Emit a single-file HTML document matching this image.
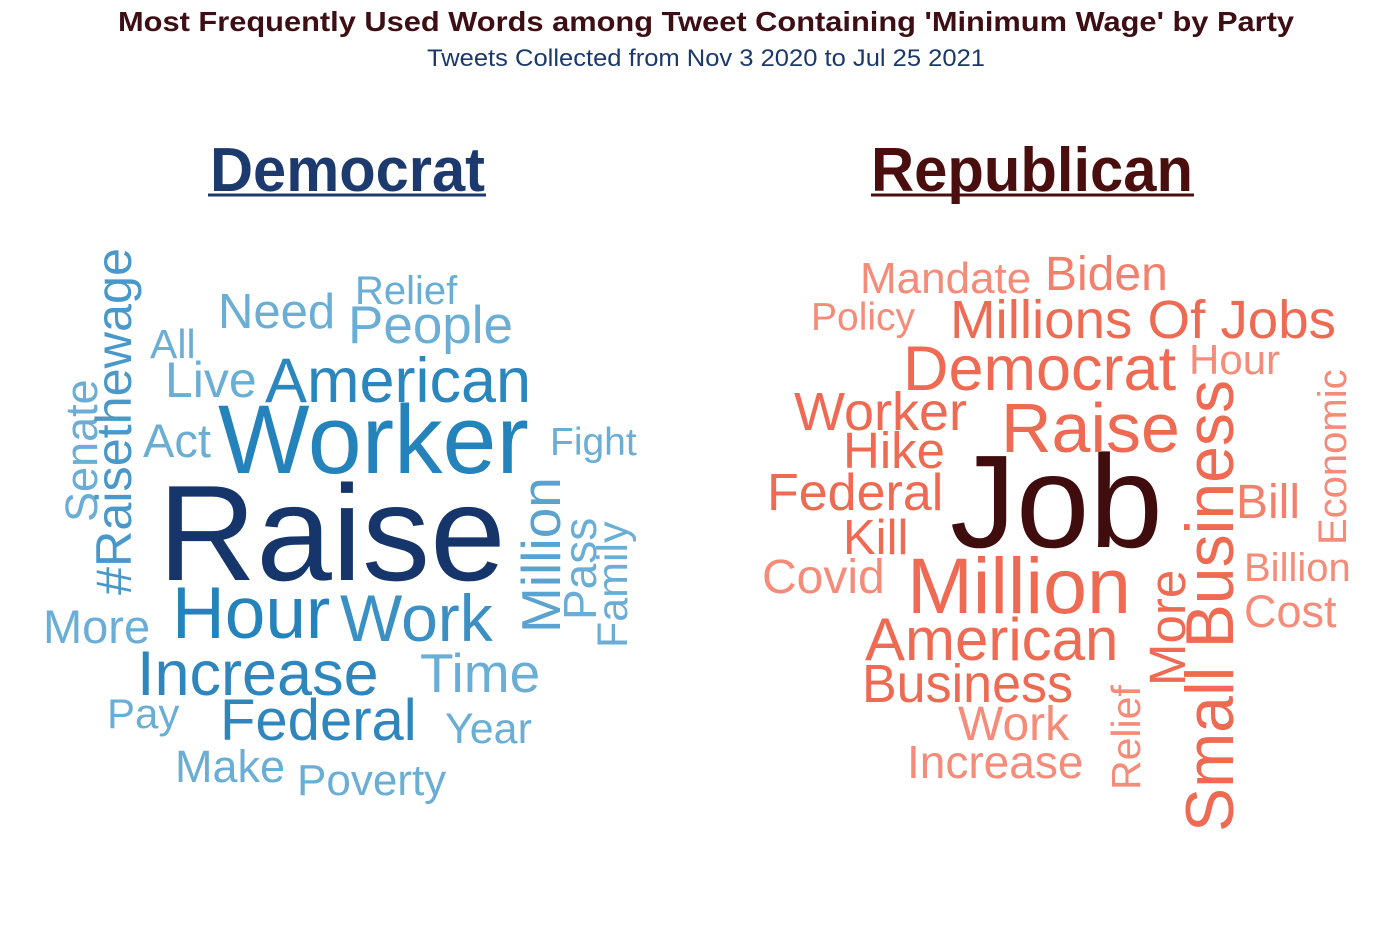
<!DOCTYPE html>
<html><head><meta charset="utf-8"><style>
html,body{margin:0;padding:0;background:#fff;}
svg{display:block;font-family:"Liberation Sans",Arial,sans-serif;}
</style></head><body>
<svg width="1400" height="932" viewBox="0 0 1400 932">
<text x="118" y="31" font-size="28" font-weight="bold" fill="#3d0e14" textLength="1176" lengthAdjust="spacingAndGlyphs">Most Frequently Used Words among Tweet Containing 'Minimum Wage' by Party</text>
<text x="427" y="66" font-size="24" fill="#1b3a6b" textLength="558" lengthAdjust="spacingAndGlyphs">Tweets Collected from Nov 3 2020 to Jul 25 2021</text>

<g>
<text x="210" y="191" font-size="62" font-weight="bold" fill="#1d3a6e" textLength="275" lengthAdjust="spacingAndGlyphs">Democrat</text>
<line x1="208" y1="195" x2="486" y2="195" stroke="#1d3a6e" stroke-width="3"/>
<g>
<text x="158" y="580" font-size="136" fill="#16366b">Raise</text>
<text x="218" y="473" font-size="97" fill="#2483bb">Worker</text>
<text x="265" y="402" font-size="63" fill="#2a86bd">American</text>
<text x="172" y="638" font-size="73" fill="#2483bb">Hour</text>
<text x="340" y="641" font-size="66" fill="#3a8fc3">Work</text>
<text x="137" y="695" font-size="63" fill="#2f86bd">Increase</text>
<text x="220" y="740" font-size="58" fill="#2f86bd">Federal</text>
<text x="420" y="692" font-size="55" fill="#6aaed6">Time</text>
<text x="445" y="743" font-size="43" fill="#6aaed6">Year</text>
<text x="107" y="728" font-size="42" fill="#6aaed6">Pay</text>
<text x="175" y="782" font-size="45" fill="#6aaed6">Make</text>
<text x="297" y="795" font-size="44" fill="#6aaed6">Poverty</text>
<text x="43" y="643" font-size="47" fill="#6aaed6">More</text>
<text x="218" y="328" font-size="49" fill="#6aaed6">Need</text>
<text x="355" y="304" font-size="40" fill="#6aaed6">Relief</text>
<text x="348" y="343" font-size="53" fill="#6aaed6">People</text>
<text x="150" y="358" font-size="41" fill="#6aaed6">All</text>
<text x="165" y="397" font-size="50" fill="#6aaed6">Live</text>
<text x="143" y="457" font-size="47" fill="#6aaed6">Act</text>
<text x="550" y="455" font-size="39" fill="#6aaed6">Fight</text>
<text transform="translate(97,522) rotate(-90)" font-size="45" fill="#6aaed6">Senate</text>
<text transform="translate(131,595) rotate(-90)" font-size="50" fill="#4a98c9" textLength="347" lengthAdjust="spacingAndGlyphs">#Raisethewage</text>
<text transform="translate(560,633) rotate(-90)" font-size="55" fill="#5aa2cf">Million</text>
<text transform="translate(596,620) rotate(-90)" font-size="46" fill="#6aaed6">Pass</text>
<text transform="translate(627,648) rotate(-90)" font-size="43" fill="#6aaed6">Family</text>
</g>
</g>

<g>
<text x="871" y="191" font-size="62" font-weight="bold" fill="#4a0e0e" textLength="322" lengthAdjust="spacingAndGlyphs">Republican</text>
<line x1="871" y1="195" x2="1194" y2="195" stroke="#4a0e0e" stroke-width="3"/>
<g>
<text x="950" y="547" font-size="132" fill="#3f0d0d">Job</text>
<text x="907" y="613" font-size="79" fill="#ef6a52">Million</text>
<text x="1001" y="452" font-size="70" fill="#ef6a52">Raise</text>
<text x="903" y="390" font-size="63" fill="#ef6a52">Democrat</text>
<text x="950" y="338" font-size="54" fill="#ef6a52" textLength="386" lengthAdjust="spacingAndGlyphs">Millions Of Jobs</text>
<text x="860" y="293" font-size="44" fill="#f58b78">Mandate</text>
<text x="1045" y="290" font-size="48" fill="#f2806c">Biden</text>
<text x="811" y="330" font-size="39" fill="#f58b78">Policy</text>
<text x="1189" y="374" font-size="42" fill="#f58b78">Hour</text>
<text x="794" y="430" font-size="54" fill="#ef6a52">Worker</text>
<text x="843" y="468" font-size="51" fill="#ef6a52">Hike</text>
<text x="767" y="510" font-size="52" fill="#ef6a52">Federal</text>
<text x="843" y="554" font-size="49" fill="#ef6a52">Kill</text>
<text x="762" y="593" font-size="48" fill="#f58b78">Covid</text>
<text x="865" y="660" font-size="60" fill="#ef6a52">American</text>
<text x="862" y="702" font-size="54" fill="#ef6a52" textLength="211" lengthAdjust="spacingAndGlyphs">Business</text>
<text x="958" y="740" font-size="48" fill="#f58b78">Work</text>
<text x="907" y="778" font-size="46" fill="#f58b78">Increase</text>
<text transform="translate(1140,790) rotate(-90)" font-size="41" fill="#f58b78">Relief</text>
<text transform="translate(1185,686) rotate(-90)" font-size="51" fill="#ef6a52">More</text>
<text transform="translate(1233,832) rotate(-90)" font-size="68" fill="#ef6a52" textLength="452" lengthAdjust="spacingAndGlyphs">Small Business</text>
<text x="1236" y="518" font-size="48" fill="#f2806c">Bill</text>
<text x="1244" y="581" font-size="40" fill="#f58b78">Billion</text>
<text x="1244" y="627" font-size="45" fill="#f58b78">Cost</text>
<text transform="translate(1346,545) rotate(-90)" font-size="40" fill="#f58b78">Economic</text>
</g>
</g>
</svg>
</body></html>
